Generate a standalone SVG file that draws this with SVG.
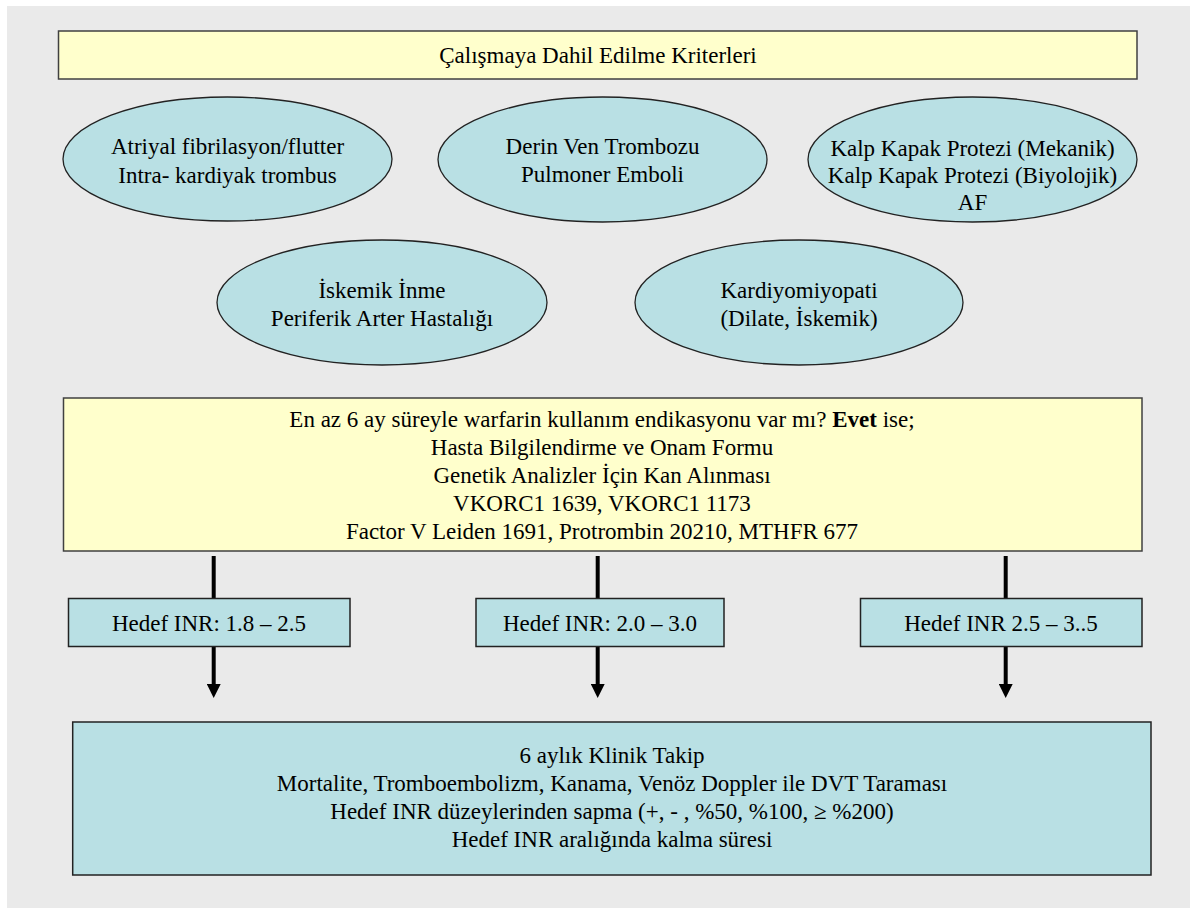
<svg xmlns="http://www.w3.org/2000/svg" width="1194" height="908" viewBox="0 0 1194 908" font-family="'Liberation Serif', 'Times New Roman', Tinos, 'DejaVu Serif', serif">
<style>
text { font-family: 'Liberation Serif', 'Times New Roman', Tinos, 'DejaVu Serif', serif; font-size: 23px; fill: #000; text-anchor: middle; }
.yel { fill: #FFFFCC; stroke: #404040; stroke-width: 1.5; }
.teal { fill: #B9E0E4; stroke: #222; stroke-width: 1.3; }
.box { fill: #B9E0E4; stroke: #222; stroke-width: 1.5; }
.conn { stroke: #000; stroke-width: 4; fill: none; }
</style>
<defs>
<marker id="ah" markerUnits="userSpaceOnUse" markerWidth="14" markerHeight="14" refX="4" refY="7" orient="auto">
<path d="M0,0 L14,7 L0,14 z" fill="#000"/>
</marker>
</defs>
<rect x="7" y="6" width="1183" height="902" fill="#EAEAEA"/>
<g id="title">
<rect class="yel" x="58.5" y="31" width="1078.5" height="48"/>
<text x="598" y="62.5">Çalışmaya Dahil Edilme Kriterleri</text>
</g>
<g id="e1">
<ellipse class="teal" cx="227.5" cy="159" rx="164.5" ry="62"/>
<text x="227.5" y="154">Atriyal fibrilasyon/flutter</text>
<text x="227.5" y="183">Intra- kardiyak trombus</text>
</g>
<g id="e2">
<ellipse class="teal" cx="602.5" cy="159.5" rx="164.5" ry="62.5"/>
<text x="602.5" y="153.5">Derin Ven Trombozu</text>
<text x="602.5" y="182">Pulmoner Emboli</text>
</g>
<g id="e3">
<ellipse class="teal" cx="972.5" cy="159.5" rx="164.5" ry="62.5"/>
<text x="972.5" y="156">Kalp Kapak Protezi (Mekanik)</text>
<text x="972.5" y="183">Kalp Kapak Protezi (Biyolojik)</text>
<text x="972.5" y="210">AF</text>
</g>
<g id="e4">
<ellipse class="teal" cx="382" cy="302.5" rx="165" ry="62.5"/>
<text x="382" y="298">İskemik İnme</text>
<text x="382" y="326">Periferik Arter Hastalığı</text>
</g>
<g id="e5">
<ellipse class="teal" cx="799" cy="302.5" rx="164" ry="62.5"/>
<text x="799" y="298">Kardiyomiyopati</text>
<text x="799" y="326">(Dilate, İskemik)</text>
</g>
<g id="mid">
<rect class="yel" x="63.5" y="398" width="1078.5" height="153"/>
<text x="602" y="427">En az 6 ay süreyle warfarin kullanım endikasyonu var mı? <tspan font-weight="bold">Evet</tspan> ise;</text>
<text x="602" y="455">Hasta Bilgilendirme ve Onam Formu</text>
<text x="602" y="483">Genetik Analizler İçin Kan Alınması</text>
<text x="602" y="511">VKORC1 1639, VKORC1 1173</text>
<text x="602" y="539">Factor V Leiden 1691, Protrombin 20210, MTHFR 677</text>
</g>
<g id="connectors">
<line class="conn" x1="213.7" y1="556" x2="213.7" y2="598"/>
<line class="conn" x1="597.7" y1="556" x2="597.7" y2="598"/>
<line class="conn" x1="1005.7" y1="556" x2="1005.7" y2="598"/>
<line class="conn" x1="213.7" y1="647" x2="213.7" y2="688" marker-end="url(#ah)"/>
<line class="conn" x1="597.7" y1="647" x2="597.7" y2="688" marker-end="url(#ah)"/>
<line class="conn" x1="1005.7" y1="647" x2="1005.7" y2="688" marker-end="url(#ah)"/>
</g>
<g id="inr1">
<rect class="box" x="68.5" y="598.5" width="281.5" height="48"/>
<text x="209" y="630.5">Hedef INR: 1.8 – 2.5</text>
</g>
<g id="inr2">
<rect class="box" x="476" y="598.5" width="248" height="48"/>
<text x="600" y="630.5">Hedef INR: 2.0 – 3.0</text>
</g>
<g id="inr3">
<rect class="box" x="860.5" y="598.5" width="281.5" height="48"/>
<text x="1001" y="630.5">Hedef INR 2.5 – 3..5</text>
</g>
<g id="followup">
<rect class="box" x="72.7" y="722" width="1078.3" height="153"/>
<text x="612" y="763">6 aylık Klinik Takip</text>
<text x="612" y="791">Mortalite, Tromboembolizm, Kanama, Venöz Doppler ile DVT Taraması</text>
<text x="612" y="819">Hedef INR düzeylerinden sapma (+, - , %50, %100, ≥ %200)</text>
<text x="612" y="847">Hedef INR aralığında kalma süresi</text>
</g>
</svg>
